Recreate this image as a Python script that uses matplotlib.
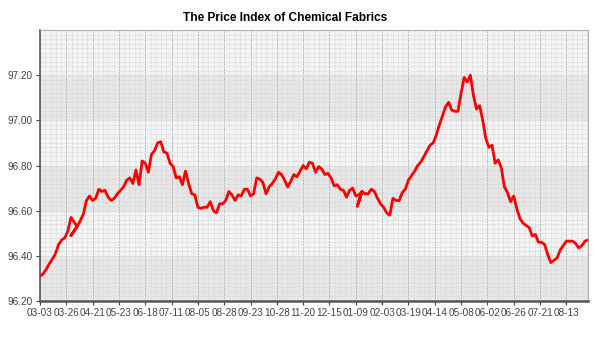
import matplotlib
matplotlib.use('Agg')
import matplotlib.pyplot as plt
from matplotlib.ticker import MultipleLocator, FormatStrFormatter

plt.rcParams['font.family'] = ['Liberation Sans', 'DejaVu Sans']

# price index, one reading every 2 trading days (day 0 = 03-03)
step = 2
values = [
    96.31, 96.32, 96.34, 96.365, 96.385, 96.41, 96.45, 96.47, 96.48, 96.51,
    96.57, 96.55, 96.53, 96.555, 96.585, 96.645, 96.665, 96.645, 96.655, 96.695,
    96.685, 96.69, 96.66, 96.645, 96.655, 96.675, 96.69, 96.705, 96.735, 96.745,
    96.72, 96.78, 96.715, 96.82, 96.81, 96.77, 96.85, 96.865, 96.90, 96.905,
    96.86, 96.855, 96.81, 96.795, 96.745, 96.75, 96.715, 96.775, 96.72, 96.675,
    96.67, 96.615, 96.61, 96.615, 96.615, 96.64, 96.60, 96.59, 96.63, 96.63,
    96.645, 96.685, 96.67, 96.645, 96.67, 96.665, 96.695, 96.695, 96.665, 96.675,
    96.745, 96.74, 96.725, 96.675, 96.705, 96.72, 96.74, 96.77, 96.76, 96.735,
    96.705, 96.73, 96.76, 96.75, 96.775, 96.80, 96.785, 96.815, 96.81, 96.77,
    96.795, 96.785, 96.76, 96.765, 96.745, 96.71, 96.715, 96.695, 96.69, 96.66,
    96.69, 96.70, 96.665, 96.67, 96.685, 96.675, 96.675, 96.695, 96.685, 96.655,
    96.63, 96.615, 96.59, 96.58, 96.655, 96.645, 96.645, 96.68, 96.695, 96.735,
    96.755, 96.775, 96.80, 96.815, 96.84, 96.865, 96.89, 96.90, 96.935, 96.98,
    97.02, 97.06, 97.08, 97.045, 97.04, 97.04, 97.12, 97.19, 97.17, 97.20,
    97.11, 97.05, 97.065, 97.00, 96.92, 96.88, 96.89, 96.81, 96.825, 96.79,
    96.705, 96.68, 96.64, 96.665, 96.61, 96.565, 96.545, 96.535, 96.525, 96.488,
    96.495, 96.46, 96.46, 96.45, 96.405, 96.37, 96.38, 96.39, 96.425, 96.445,
    96.465, 96.465, 96.465, 96.455, 96.435, 96.445, 96.465, 96.47,
]

# out-of-order records in the source: after day key the line jumps back to (day, value)
stray = {24: (20, 96.49), 208: (205, 96.62)}

tick_days = list(range(0, 341, 17))
tick_labels = ['03-03', '03-26', '04-21', '05-23', '06-18', '07-11', '08-05',
               '08-28', '09-23', '10-28', '11-20', '12-15', '01-09', '02-03',
               '03-19', '04-14', '05-08', '06-02', '06-26', '07-21', '08-13']
y_ticks = [96.2, 96.4, 96.6, 96.8, 97.0, 97.2]

xs, ys = [], []
for i, v in enumerate(values):
    d = i * step
    xs.append(d)
    ys.append(v)
    if d in stray:
        sd, sv = stray[d]
        xs += [sd, d]
        ys += [sv, v]

fig = plt.figure(figsize=(6, 3.5), dpi=100)
ax = fig.add_axes([40 / 600, 1 - 301 / 350, 548 / 600, 271 / 350])
ax.set_facecolor('#f4f4f4')

for lo in [96.2, 96.6, 97.0]:
    ax.axhspan(lo, lo + 0.2, color='#e7e7e7', zorder=0)

ax.set_xlim(0, 354)
ax.set_ylim(96.2, 97.4)
ax.set_xticks(tick_days)
ax.set_xticklabels(tick_labels)
ax.xaxis.set_minor_locator(MultipleLocator(3.4))
ax.set_yticks(y_ticks)
ax.yaxis.set_minor_locator(MultipleLocator(0.02))
ax.yaxis.set_major_formatter(FormatStrFormatter('%.2f'))

ax.grid(which='minor', color='#d6d6d6', linestyle=(0, (2, 1)), linewidth=0.5, zorder=1)
ax.grid(which='major', axis='x', color='#b8b8b8', linestyle=(0, (2, 1)), linewidth=0.7, zorder=1)
ax.grid(which='major', axis='y', color='#d6d6d6', linestyle=(0, (2, 1)), linewidth=0.5, zorder=1)
ax.set_axisbelow(True)

ax.plot(xs, ys, color='#ff0000', linewidth=2.0, solid_joinstyle='round',
        solid_capstyle='round', zorder=3)

for s in ['top', 'right']:
    ax.spines[s].set_color('#b0b0b0')
    ax.spines[s].set_linewidth(0.8)
ax.spines['left'].set_color('#555555')
ax.spines['bottom'].set_color('#555555')
ax.spines['left'].set_linewidth(1.2)
ax.spines['bottom'].set_linewidth(1.8)

ax.tick_params(which='major', direction='out', length=3, labelsize=7.2,
               colors='#444444', pad=2)
ax.tick_params(which='minor', length=0)

fig.text(285 / 600, 1 - 18 / 350, 'The Price Index of Chemical Fabrics',
         ha='center', va='center', fontsize=8.6, fontweight='bold', color='black')

fig.savefig('out.png', dpi=100)
